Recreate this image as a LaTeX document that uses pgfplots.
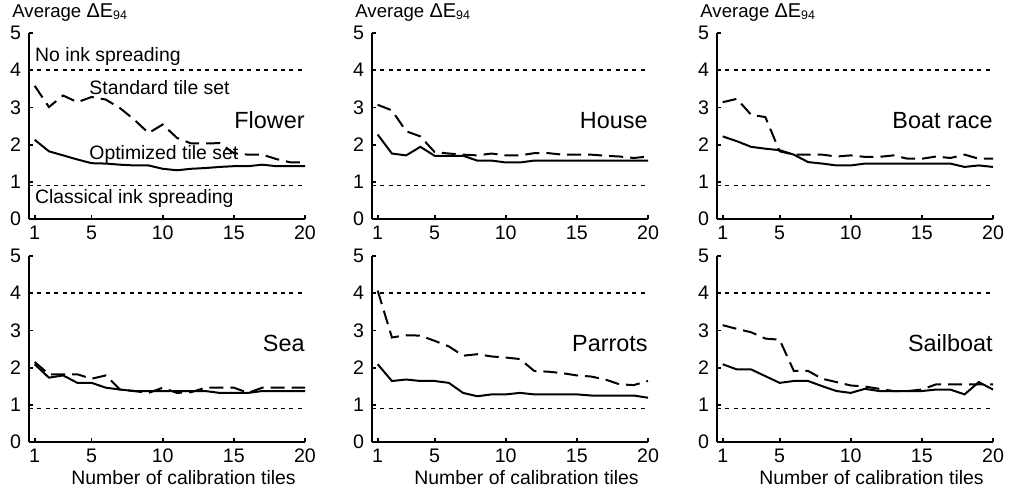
\documentclass[border=0pt]{standalone}
\usepackage{fontspec}
\setmainfont{Liberation Sans}
\usepackage{pgfplots}
\usepackage{pgfplotstable}
\pgfplotsset{compat=1.18}

% f=Flower h=House b=Boat race s=Sea p=Parrots l=Sailboat; *s optimized, *d standard
\pgfplotstableread{
x  fs   fd   hs   hd   bs   bd   ss   sd   ps   pd   ls   ld
1  2.13 3.58 2.27 3.07 2.22 3.14 2.09 2.15 2.09 4.07 2.09 3.14
2  1.82 3.01 1.76 2.92 2.09 3.23 1.73 1.82 1.64 2.81 1.95 3.04
3  1.71 3.32 1.71 2.36 1.94 2.80 1.79 1.82 1.68 2.87 1.95 2.95
4  1.60 3.14 1.94 2.22 1.89 2.74 1.59 1.82 1.64 2.86 1.77 2.78
5  1.50 3.28 1.70 1.80 1.85 1.82 1.59 1.70 1.64 2.72 1.59 2.75
6  1.49 3.21 1.70 1.76 1.73 1.73 1.46 1.79 1.59 2.57 1.64 1.91
7  1.46 2.98 1.70 1.73 1.53 1.73 1.41 1.41 1.32 2.32 1.64 1.91
8  1.44 2.67 1.57 1.71 1.49 1.73 1.37 1.37 1.23 2.36 1.50 1.70
9  1.44 2.31 1.57 1.76 1.44 1.68 1.37 1.32 1.28 2.30 1.37 1.61
10 1.35 2.54 1.52 1.71 1.44 1.71 1.37 1.46 1.28 2.27 1.32 1.52
11 1.31 2.18 1.52 1.71 1.49 1.67 1.37 1.32 1.32 2.23 1.43 1.49
12 1.35 2.03 1.57 1.77 1.49 1.67 1.37 1.34 1.28 1.91 1.37 1.43
13 1.37 2.03 1.57 1.77 1.49 1.71 1.37 1.46 1.28 1.89 1.37 1.37
14 1.40 2.04 1.57 1.73 1.49 1.62 1.32 1.46 1.28 1.85 1.37 1.37
15 1.42 1.77 1.57 1.73 1.49 1.62 1.32 1.46 1.28 1.79 1.37 1.41
16 1.42 1.73 1.57 1.73 1.49 1.68 1.32 1.32 1.25 1.76 1.41 1.55
17 1.46 1.73 1.57 1.70 1.49 1.64 1.37 1.46 1.25 1.68 1.41 1.55
18 1.42 1.61 1.57 1.68 1.40 1.73 1.37 1.46 1.25 1.55 1.28 1.55
19 1.42 1.52 1.57 1.64 1.44 1.62 1.37 1.46 1.25 1.53 1.61 1.55
20 1.42 1.52 1.57 1.68 1.40 1.62 1.37 1.46 1.19 1.64 1.41 1.55
}\tiles

\pgfplotsset{
  panel/.style={
    scale only axis, width=138pt, height=93pt,
    anchor=south west,
    xmin=0.6, xmax=20, ymin=0, ymax=5,
    axis x line*=bottom, axis y line*=left,
    axis line style={line width=0.9pt},
    xtick={1,5,10,15,20}, ytick={0,1,2,3,4,5},
    tick align=inside, major tick length=2pt,
    tick style={line width=0.9pt, black},
    ticklabel style={font=\fontsize{9.8}{11}\selectfont},
    yticklabel style={xshift=-0.5pt},
    /pgf/number format/assume math mode=true,
    clip=false,
  },
  xlab/.style={
    xlabel={Number of calibration tiles},
    xlabel style={font=\fontsize{9.7}{11}\selectfont, at={(axis description cs:0.56,0)},
      anchor=north, inner sep=0pt, yshift=-14pt},
  },
}
\tikzset{
  opt/.style={black, line width=1pt},
  std/.style={black, line width=1pt, dash pattern=on 7pt off 3.5pt},
  refline/.style={black, line width=0.8pt, dash pattern=on 2pt off 2.2pt},
  pname/.style={anchor=base east, inner sep=0pt, font=\fontsize{11.7}{13}\selectfont},
  annot/.style={anchor=base west, inner sep=0pt, font=\fontsize{9.7}{11}\selectfont},
}
\newcommand{\ylab}{\node[anchor=base west, inner sep=0pt, font=\fontsize{9.3}{10}\selectfont,
  xshift=-8.5pt, yshift=7.5pt] at (rel axis cs:0,1)
  {Average {\fontsize{10}{11}\selectfont ΔE}{\fontsize{6.2}{7}\selectfont\raisebox{-1pt}{94}}};}
\newcommand{\refs}{\addplot[refline] coordinates {(0.6,4) (20,4)};
  \addplot[refline] coordinates {(0.6,0.9) (20,0.9)};}

\begin{document}
\begin{tikzpicture}
\useasboundingbox (0,0) rectangle (505pt,-246.5pt);

% top row
\begin{axis}[panel, at={(14.5pt,-109.5pt)}]
\refs
\addplot[std] table[x=x, y=fd] {\tiles};
\addplot[opt] table[x=x, y=fs] {\tiles};
\ylab
\node[pname] at (axis cs:20,2.44) {Flower};
\node[annot] at (axis cs:1,4.23) {No ink spreading};
\node[annot] at (axis cs:4.82,3.35) {Standard tile set};
\node[annot] at (axis cs:4.82,1.59) {Optimized tile set};
\node[annot] at (axis cs:1,0.43) {Classical ink spreading};
\end{axis}

\begin{axis}[panel, at={(186pt,-109.5pt)}]
\refs
\addplot[std] table[x=x, y=hd] {\tiles};
\addplot[opt] table[x=x, y=hs] {\tiles};
\ylab
\node[pname] at (axis cs:20,2.44) {House};
\end{axis}

\begin{axis}[panel, at={(358.5pt,-109.5pt)}]
\refs
\addplot[std] table[x=x, y=bd] {\tiles};
\addplot[opt] table[x=x, y=bs] {\tiles};
\ylab
\node[pname] at (axis cs:20,2.44) {Boat race};
\end{axis}

% bottom row
\begin{axis}[panel, xlab, at={(14.5pt,-221pt)}]
\refs
\addplot[std] table[x=x, y=sd] {\tiles};
\addplot[opt] table[x=x, y=ss] {\tiles};
\node[pname] at (axis cs:20,2.44) {Sea};
\end{axis}

\begin{axis}[panel, xlab, at={(186pt,-221pt)}]
\refs
\addplot[std] table[x=x, y=pd] {\tiles};
\addplot[opt] table[x=x, y=ps] {\tiles};
\node[pname] at (axis cs:20,2.44) {Parrots};
\end{axis}

\begin{axis}[panel, xlab, at={(358.5pt,-221pt)}]
\refs
\addplot[std] table[x=x, y=ld] {\tiles};
\addplot[opt] table[x=x, y=ls] {\tiles};
\node[pname] at (axis cs:20,2.44) {Sailboat};
\end{axis}
\end{tikzpicture}
\end{document}
